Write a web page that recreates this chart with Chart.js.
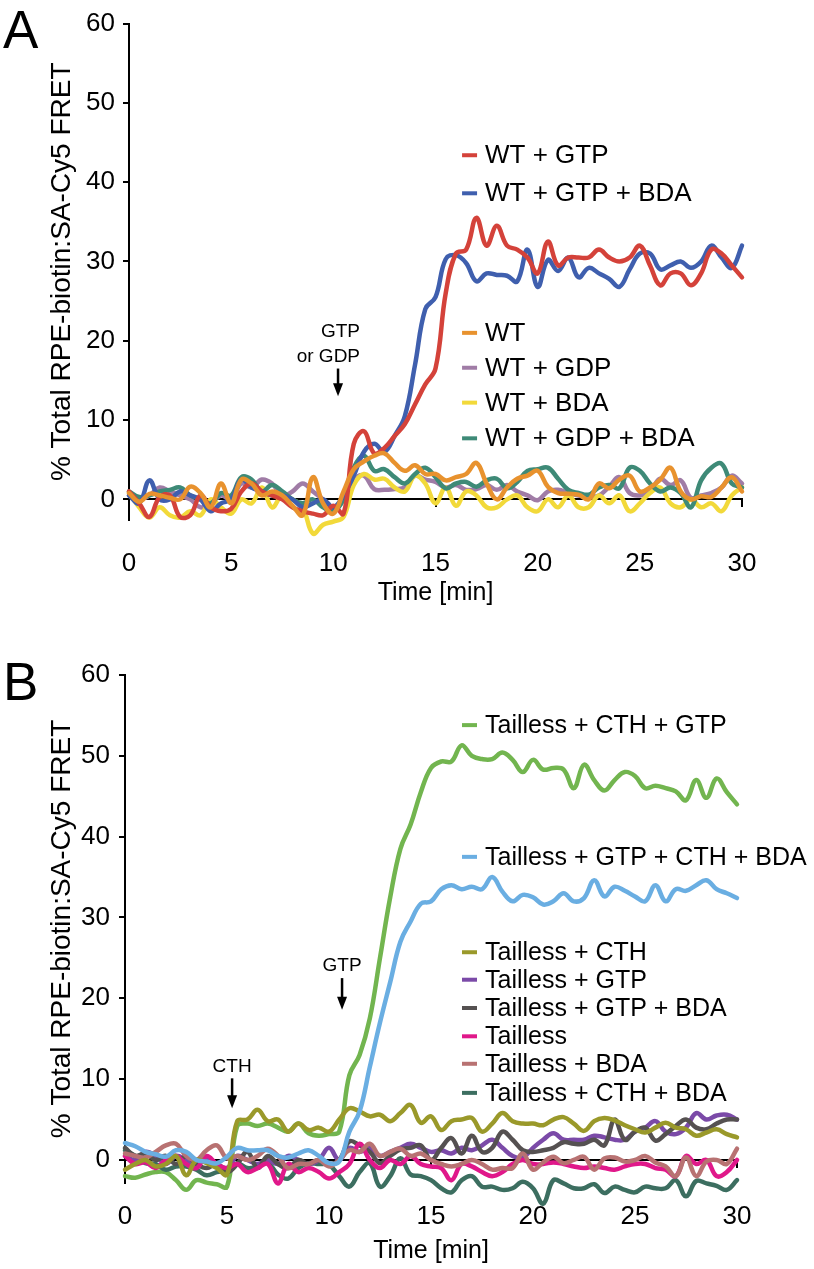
<!DOCTYPE html>
<html>
<head>
<meta charset="utf-8">
<title>FRET time course</title>
<script src="https://cdn.jsdelivr.net/npm/chart.js@4.4.1/dist/chart.umd.min.js"></script>
<style>
  body { margin: 0; background: #fff; }
  .panel { position: absolute; left: 0; width: 814px; }
  #panelA { top: 0; height: 620px; }
  #panelB { top: 635px; height: 634px; }
</style>
</head>
<body>
<div class="panel" id="panelA"><canvas id="chartA" width="814" height="620"></canvas></div>
<div class="panel" id="panelB"><canvas id="chartB" width="814" height="634"></canvas></div>
<script>
// sampling times (min), shared by every trace
const timeMin = [0, 0.5, 1, 1.5, 2, 2.5, 3, 3.5, 4, 4.5, 5, 5.5, 6, 6.5, 7, 7.5, 8, 8.5, 9, 9.5,
  10, 10.5, 11, 11.5, 12, 12.5, 13, 13.5, 14, 14.5, 15, 15.5, 16, 16.5, 17, 17.5, 18, 18.5, 19, 19.5,
  20, 20.5, 21, 21.5, 22, 22.5, 23, 23.5, 24, 24.5, 25, 25.5, 26, 26.5, 27, 27.5, 28, 28.5, 29, 29.5, 30];

const xTicks = [0, 5, 10, 15, 20, 25, 30];
const yTicks = [0, 10, 20, 30, 40, 50, 60];
const zeroLineTicks = [15, 30];

// Panel A
const labelsA = ['WT + GTP', 'WT + GTP + BDA', 'WT', 'WT + GDP', 'WT + BDA', 'WT + GDP + BDA'];
const wtGtp = [1, -0.5, -2.2, 0.3, 0.5, -2.2, -2, 0.5, -1, -1.5, -1.2, 1, 2, 1, 0.5, 0, -1, -1.5, -1.8, -2, -0.8, -1.8,
  7, 8.6, 5.8, 6.5, 8, 9.5, 12, 14.5, 16.5, 26, 31, 31.5, 35.5, 32, 34.5, 32, 31.5, 30.5, 28.5, 32.5, 29.5, 30.5,
  30.5, 30.5, 31.5, 30.5, 30, 30.5, 32, 29.5, 27, 28.5, 28.5, 27, 28.5, 31.5, 31, 29.5, 28];
const wtGtpBda = [0.5, -0.5, 2.4, 0, 0, 1, 0.5, 0, -1.5, -0.5, 0, 2.5, 1.5, 1, 0.5, 0.5, 0, -1, -0.5, 0, -1, 0.5,
  3, 6, 7, 6, 8, 10.5, 17, 24, 25.5, 30.3, 30.8, 29.8, 27.5, 28.5, 28.3, 28.2, 27.5, 31.5, 26.8, 30.2, 28.8, 30.5,
  28, 29.2, 28.5, 27.8, 26.8, 29, 31, 31, 29, 29.5, 30, 29.2, 30, 32, 30.5, 29.2, 32];
const wt = [0.8, -0.3, 0.7, 0.5, 0.2, 0, 1.6, 0.8, -1, 2, -0.5, 2.5, 2, 0.5, 1, 0.5, -0.8, -2, 2.8, -0.5, -1.8, 1,
  3.8, 4.8, 5.5, 5.8, 4.6, 3.6, 4.3, 3.2, 3.2, 2.4, 2.8, 3.2, 4.6, 2, 0, 1.5, 2.6, 3, 3.6, 1.6, 0.8, 0.7,
  0.6, 0, 2, 1.4, 2.5, 3, 1, 1.5, 2.5, 4, 1, 0, 0.4, 0.3, 1.5, 2.8, 1];
const wtGdp = [0.5, 0, 0.5, 1.5, 1, 0.5, 0, -1, -0.5, 0.5, 0, 2, 1.5, 2.5, 2, 0.5, 1, 2, 1, 0, -1.2, 0.5,
  2.5, 3, 1.3, 1.2, 1.3, 1.5, 3, 2.5, 2.2, 1.5, 1.8, 1.2, 1.3, 1.8, 1.2, 1.8, 1, 0.5, -0.1, 1, 1.2, 0.8,
  0.5, 0.3, 0.5, 1.6, 2.8, 0.8, 0.5, 1, 2.6, 1.8, 2.4, 0.2, 0.5, 0.8, 1.5, 3, 2];
const wtBda = [0.8, -1, -2.3, -1, -2, -2.3, -1.5, -2, 0, -1, -1.8, 0, -0.5, 1.5, -1, 0.5, 0, -1, -4.3, -3.2, -2.8, -2.2,
  1.8, 3.2, 2.5, 2.6, 1.5, 1, 3, 2, -0.5, 1.5, -0.8, 1, 0.5, -1, -1, 0, 0.5, -1, -1.5, 0, -1, 0.5,
  -1, -1, 0.5, -0.5, 0.5, -1.5, -0.5, 0.8, 1.5, -0.5, -1, 0, -1, -0.5, -1.5, 0.5, 1.5];
const wtGdpBda = [1, 0.3, 0.5, 1, 1.2, 1.5, 0.5, 0, -0.5, 0.8, 0.5, 2.8, 2.5, 1, 1.8, 1, 0, -0.5, 0, -1, -1.5, 0,
  4, 5.5, 3.6, 3.8, 2.8, 2, 3.2, 4, 2.8, 1.4, 2, 2.2, 1.6, 2.4, 2.6, 1.4, 2.2, 3.6, 3.8, 4, 2.6, 1.2,
  0.8, 0.6, 1.5, 1.8, 1.4, 4, 3.6, 2, 1, 1.5, 0.8, -1, 2.4, 4, 4.5, 2, 1.5];

// Panel B
const labelsB = ['Tailless + CTH + GTP', 'Tailless + GTP + CTH + BDA', 'Tailless + CTH', 'Tailless + GTP',
  'Tailless + GTP + BDA', 'Tailless', 'Tailless + BDA', 'Tailless + CTH + BDA'];
const tlCthGtp = [-2, -2.2, -1.8, -1.5, -1.5, -2.5, -3.7, -2.5, -2.8, -3, -3.3, 4.2, 4.5, 4.2, 4.5, 4, 3.5, 4.5, 3.3, 3, 3.2, 3.5,
  10.5, 13, 17.5, 25, 32.5, 38.5, 41.5, 45.5, 48.5, 49.3, 49.3, 51.3, 50, 49.6, 49.6, 50.4, 49.5, 48, 49.5, 48.3, 48.5, 48.3,
  46, 48.9, 47, 45.7, 47, 48, 47.5, 46, 46.3, 46, 45.6, 44.5, 47, 44.8, 47.2, 45.5, 44];
const tlGtpCthBda = [2.1, 1.7, 1, 0.7, 0.4, 1.2, 1, 0, -0.2, -0.4, 0.4, 1.5, 1.2, 1.2, 1.2, 0.5, 0.3, 0.8, 1.2, 0.5, -0.4, -0.2,
  3.5, 6, 11.5, 17, 22, 27, 29.5, 31.7, 32, 33.5, 34, 33.5, 33.8, 33.5, 35, 33.2, 32, 32.8, 32.5, 31.6, 32, 33,
  32, 32.4, 34.6, 32.6, 33.8, 33.3, 32.6, 32, 34, 32, 33.5, 33.3, 34, 34.6, 33.5, 33, 32.4];
const tlCth = [-1.2, -0.5, 0, -0.8, -0.5, 0.5, -1.9, 0, -0.4, -1, -1.8, 4.8, 5, 6.2, 4.8, 5, 3.5, 4.5, 3.7, 4, 3.5, 5,
  6.4, 6, 5.4, 5.6, 4.8, 5.8, 6.8, 4.6, 5.4, 3.7, 4.8, 5, 5.2, 3.5, 4.5, 5.8, 4.8, 4.5, 4.5, 4.3, 5, 5.3,
  4.5, 3.6, 4.8, 5.2, 4.9, 4.3, 3.8, 3.4, 4, 4.6, 4, 3.8, 3, 3.4, 3.8, 3.2, 2.8];
const tlGtp = [0.5, 0, 1, 0.5, -0.5, 0.5, 0, -0.5, 0, -0.5, -1, 0.5, 0, -0.5, 0, -0.5, 0.5, 0, -0.5, 0, 1.5, 0,
  1.5, 1, 1.5, 0.5, 1, 1.5, 2, 1.5, 1, 1.2, 0.8, 1.5, 1.2, 1.8, 2.5, 1.5, 0.5, 0.3, 1.5, 2.5, 3.3, 2.5,
  2.5, 2.5, 3, 2.8, 2.5, 2.5, 3.5, 4, 4.8, 3.5, 3.2, 4, 5.8, 5, 5.5, 5.6, 5];
const tlGtpBda = [1.5, 0.5, 0.8, 0, 0.5, -0.5, 0.5, -0.5, -1, -0.5, -1.5, -0.5, 1, -1, 0.5, -0.5, -1, 0, -0.5, 0, -0.5, 0,
  2.3, 1.8, 1, -0.4, 0.5, 1.3, 1.5, 1.8, 0, 1.5, 2.7, 0.8, 3, 1, 1.5, 3.5, 2.5, 1.2, 1, 1.2, 1.5, 2.2,
  2, 2, 2.5, 1.8, 5, 2.5, 3.5, 4, 2.4, 3.2, 4.2, 5, 4, 3.8, 4.5, 5, 5];
const tailless = [0.5, -0.5, -0.3, -1, 0, 0.5, -0.5, -1, 0.5, -0.5, -1, -0.5, -1.5, -1, -0.5, -2.9, -0.5, -1.5, -1, -1.5, -2.3, -1.5,
  -0.5, 2, 0, -1, 0, -0.5, 0.5, -0.5, -0.8, -1, -2.5, -0.5, -0.8, -1.5, -2, -1.5, -0.5, 0, -0.5, -0.5, -0.3, -0.5,
  -0.8, -1, -0.8, -1, -1.2, -0.8, -0.5, -0.5, -1, -1.2, -2, 0.5, -0.5, 0, -2, -1.5, 0];
const tlBda = [0.8, 0.5, 0.3, 1, 1.8, 2, 0.5, 0, 1.2, 1.8, 0.2, 0.5, 0, 0.5, 1.4, 0.5, -1, -0.5, -0.5, 0, -0.8, 0,
  1.2, 1, 2, 0.5, 1, 1.4, 0.5, 0.8, 0, -0.5, -0.8, -0.5, 0, -0.5, -1.2, -1, -1, 0.8, -1.2, -0.3, 0.4, -0.4,
  0, 0.4, -1.2, 0.2, 0.3, -0.2, 0, 0.5, -0.3, -0.8, -2, 0.3, -2, -0.2, 0, -0.5, 1.4];
const tlCthBda = [1.2, 0.5, -0.4, -0.5, -1.2, -0.8, -0.8, -1.2, -1.9, -1.5, -1.2, -0.4, -1, -0.8, -0.4, -1.8, -2.3, -1, -0.4, -0.5, -0.6, -2,
  -3.3, -1.5, -0.4, -3.3, -2, 0.2, -1.8, -2, -2.5, -3.5, -4, -2.5, -2, -3.3, -3.3, -3.7, -3.5, -2.7, -3.5, -5.4, -2.5, -2.9,
  -3.5, -3.5, -3, -4.1, -3.3, -3.7, -4, -3.3, -3.5, -3.5, -2.5, -4.5, -2.6, -2.9, -3.2, -3.7, -2.5];

const colorsA = ['#d4423a', '#3f5fae', '#e8922e', '#a07ca6', '#f2d93a', '#3e8a77'];
const colorsB = ['#72b54f', '#6aaee2', '#9a992a', '#7b4aa8', '#555151', '#e0188a', '#b87272', '#3c6e60'];

Chart.defaults.font.family = "'Liberation Sans', Arial, Helvetica, sans-serif";
Chart.defaults.color = '#000';

function toPoints(values) {
  return timeMin.map((t, i) => ({ x: t, y: values[i] }));
}

function makeDataset(label, values, color, order) {
  return {
    label: label,
    data: toPoints(values),
    borderColor: color,
    borderWidth: 4.5,
    borderCapStyle: 'round',
    borderJoinStyle: 'round',
    pointRadius: 0,
    tension: 0.4,
    fill: false,
    clip: false,
    order: order
  };
}

// legend entries, arrows and the panel letter
function notesPlugin(notes) {
  return {
    id: 'notes',
    afterDraw(chart) {
      const ctx = chart.ctx;
      const xs = chart.scales.x, ys = chart.scales.y;
      ctx.save();
      notes.legend.forEach(item => {
        const x = xs.getPixelForValue(item.t);
        const y = ys.getPixelForValue(item.v);
        ctx.strokeStyle = item.color;
        ctx.lineWidth = 4;
        ctx.beginPath();
        ctx.moveTo(x, y);
        ctx.lineTo(x + 15, y);
        ctx.stroke();
        ctx.fillStyle = '#000';
        ctx.font = notes.legendFont;
        ctx.textAlign = 'left';
        ctx.textBaseline = 'middle';
        ctx.fillText(item.label, x + 23, y + 1);
      });
      notes.arrows.forEach(a => {
        const x = xs.getPixelForValue(a.t);
        const yTop = ys.getPixelForValue(a.top);
        const yTip = ys.getPixelForValue(a.tip);
        ctx.strokeStyle = '#000';
        ctx.fillStyle = '#000';
        ctx.lineWidth = 2.5;
        ctx.beginPath();
        ctx.moveTo(x, yTop);
        ctx.lineTo(x, yTip - 10);
        ctx.stroke();
        ctx.beginPath();
        ctx.moveTo(x - 5, yTip - 13);
        ctx.lineTo(x + 5, yTip - 13);
        ctx.lineTo(x, yTip);
        ctx.closePath();
        ctx.fill();
        ctx.font = "19px 'Liberation Sans', Arial, sans-serif";
        ctx.textAlign = a.align;
        ctx.textBaseline = 'middle';
        a.lines.forEach((txt, i) => ctx.fillText(txt, x + a.dx, ys.getPixelForValue(a.textV[i])));
      });
      ctx.font = "53px 'Liberation Sans', Arial, sans-serif";
      ctx.textAlign = 'left';
      ctx.textBaseline = 'alphabetic';
      ctx.fillText(notes.letter, 3, notes.letterY);
      ctx.restore();
    }
  };
}

function makeChart(canvasId, datasets, cfg, notes) {
  return new Chart(document.getElementById(canvasId), {
    type: 'line',
    data: { datasets: datasets },
    plugins: [notesPlugin(notes)],
    options: {
      responsive: false,
      animation: false,
      events: [],
      layout: { padding: { top: cfg.top, right: cfg.right, left: 0, bottom: 0 } },
      plugins: { legend: { display: false }, tooltip: { enabled: false } },
      scales: {
        x: {
          type: 'linear', min: 0, max: 30,
          grid: { display: false, drawTicks: false },
          border: { display: false },
          ticks: { font: { size: 26 }, padding: cfg.xTickPad, maxRotation: 0, autoSkip: false },
          afterBuildTicks: s => { s.ticks = xTicks.map(v => ({ value: v })); },
          afterFit: s => { s.height = cfg.xHeight; },
          title: { display: true, text: 'Time [min]', font: { size: 25 }, padding: { top: 0, bottom: cfg.xTitlePad } }
        },
        // the zero line with its small ticks
        x0: {
          type: 'linear', axis: 'x', position: { y: 0 }, min: 0, max: 30,
          ticks: { display: false },
          afterBuildTicks: s => { s.ticks = zeroLineTicks.map(v => ({ value: v })); },
          grid: { drawOnChartArea: false, drawTicks: true, tickLength: 7, color: '#000', lineWidth: 2 },
          border: { color: '#000', width: 2 }
        },
        y: {
          type: 'linear', min: cfg.yMin, max: 60,
          afterBuildTicks: s => { s.ticks = yTicks.map(v => ({ value: v })); },
          afterFit: s => { s.width = cfg.yWidth; },
          grid: { drawOnChartArea: false, drawTicks: true, tickLength: 6, color: '#000', lineWidth: 2 },
          border: { color: '#000', width: 2 },
          ticks: { font: { size: 26 }, padding: cfg.yTickPad },
          title: { display: true, text: '% Total RPE-biotin:SA-Cy5 FRET', font: { size: 28 }, padding: { top: 45, bottom: 0 } }
        }
      }
    }
  });
}

// Panel A
const valuesA = [wtGtp, wtGtpBda, wt, wtGdp, wtBda, wtGdpBda];
const orderA = [1, 2, 0, 5, 4, 3];
const datasetsA = labelsA.map((l, i) => makeDataset(l, valuesA[i], colorsA[i], orderA[i]));
const legendVA = [43.4, 38.6, 21.0, 16.6, 12.2, 7.7];

makeChart('chartA', datasetsA,
  { top: 19, right: 72, yMin: -2.6, yWidth: 129, xHeight: 100, xTickPad: 28, xTitlePad: 12, yTickPad: 8 },
  {
    letter: 'A', letterY: 48,
    legendFont: "26px 'Liberation Sans', Arial, sans-serif",
    legend: labelsA.map((l, i) => ({ label: l, color: colorsA[i], t: 16.3, v: legendVA[i] })),
    arrows: [{ t: 10.23, top: 16.5, tip: 13.0, lines: ['GTP', 'or GDP'], textV: [21.1, 18.0], align: 'right', dx: 22 }]
  });

// Panel B
const valuesB = [tlCthGtp, tlGtpCthBda, tlCth, tlGtp, tlGtpBda, tailless, tlBda, tlCthBda];
const orderB = [7, 0, 1, 5, 4, 3, 2, 6];
const datasetsB = labelsB.map((l, i) => makeDataset(l, valuesB[i], colorsB[i], orderB[i]));
const legendVB = [53.8, 37.5, 25.7, 22.3, 18.8, 15.3, 11.9, 8.3];

makeChart('chartB', datasetsB,
  { top: 40, right: 77, yMin: -2.85, yWidth: 125, xHeight: 86, xTickPad: 18, xTitlePad: 3, yTickPad: 9 },
  {
    letter: 'B', letterY: 65,
    legendFont: "25px 'Liberation Sans', Arial, sans-serif",
    legend: labelsB.map((l, i) => ({ label: l, color: colorsB[i], t: 16.52, v: legendVB[i] })),
    arrows: [
      { t: 5.25, top: 10.1, tip: 6.4, lines: ['CTH'], textV: [11.5], align: 'center', dx: 0 },
      { t: 10.64, top: 22.5, tip: 18.6, lines: ['GTP'], textV: [24.0], align: 'center', dx: 0 }
    ]
  });
</script>
</body>
</html>
